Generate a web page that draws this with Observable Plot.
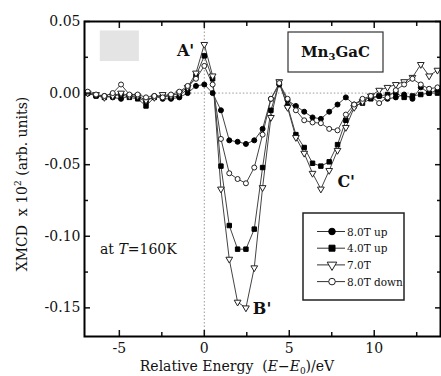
<!DOCTYPE html>
<html><head><meta charset="utf-8">
<script src="https://cdn.jsdelivr.net/npm/d3@7"></script>
<script src="https://cdn.jsdelivr.net/npm/@observablehq/plot@0.6"></script>
<style>body{margin:0;background:#fff} #chart{width:441px;height:376px}</style>
</head><body><div id="chart"></div>
<script>
// Relative energy (E - E0) in eV
const energy = [-6.86,-6.37,-5.88,-5.39,-4.9,-4.41,-3.92,-3.43,-2.94,-2.45,-1.96,-1.47,-0.98,-0.49,0,
  0.49,0.98,1.47,1.96,2.45,2.94,3.43,3.92,4.41,4.9,5.39,5.88,6.37,6.86,7.35,7.84,8.33,8.82,
  9.31,9.8,10.29,10.78,11.27,11.76,12.25,12.74,13.23,13.72];
// XMCD x 10^2 series
const up8 = [0,-0.002,-0.002,-0.003,-0.004,-0.002,-0.003,-0.006,-0.002,-0.004,-0.004,-0.003,0.000,0.005,0.006,
  0.000,-0.012,-0.033,-0.034,-0.0355,-0.033,-0.025,-0.004,0.006,-0.005,-0.009,-0.013,-0.017,-0.018,-0.013,-0.008,-0.003,-0.008,
  -0.005,-0.003,-0.002,-0.004,-0.003,-0.001,-0.004,0.004,0.000,0.002];
const up4 = [0,-0.002,-0.003,-0.002,-0.001,-0.003,-0.004,-0.009,-0.003,-0.002,-0.003,-0.002,0.003,0.012,0.026,
  0.010,-0.051,-0.0925,-0.109,-0.109,-0.095,-0.052,-0.012,0.007,-0.009,-0.029,-0.038,-0.049,-0.051,-0.048,-0.036,-0.019,-0.009,
  -0.007,-0.004,-0.002,-0.001,0.000,-0.003,-0.002,-0.001,0.000,0.000];
const t7 = [0,-0.001,-0.003,-0.002,0.000,-0.002,-0.002,-0.005,-0.003,-0.001,-0.002,0.000,0.004,0.014,0.034,
  0.012,-0.067,-0.116,-0.146,-0.150,-0.122,-0.066,-0.017,0.008,-0.010,-0.031,-0.042,-0.056,-0.067,-0.054,-0.040,-0.024,-0.010,
  -0.006,-0.002,0.002,0.004,0.006,0.008,0.011,0.020,0.012,0.016];
const down8 = [0.001,-0.001,-0.002,0.000,0.006,-0.001,-0.001,-0.003,-0.002,-0.003,-0.001,0.001,0.005,0.010,0.019,
  0.006,-0.032,-0.056,-0.060,-0.063,-0.052,-0.029,-0.004,0.007,-0.004,-0.012,-0.019,-0.0205,-0.021,-0.025,-0.026,-0.015,-0.008,
  -0.004,-0.002,-0.007,-0.003,0.002,0.006,0.010,0.006,0.003,0.004];
const seriesNames = ["8.0T up","4.0T up","7.0T","8.0T down"];
const seriesValues = [up8, up4, t7, down8];
const xMajor = [-5,0,5,10];
const xMinor = [-2.5,2.5,7.5,12.5];
const yMajor = [0.05,0,-0.05,-0.10,-0.15];
const yMinor = [0.025,-0.025,-0.075,-0.125];
const peakLabels = [{t:"A'", E:-1.1, v:0.0295},{t:"B'", E:3.4, v:-0.1505},{t:"C'", E:8.35, v:-0.062}];

const rows = [];
seriesNames.forEach((s,i)=>energy.forEach((e,j)=>rows.push({series:s, E:e, v:seriesValues[i][j]})));
const sel = s => rows.filter(d=>d.series===s);

const symbols = {
  "8.0T up": {symbol:"circle", fill:"black", stroke:"black", rotate:0},
  "4.0T up": {symbol:"square", fill:"black", stroke:"black", rotate:0},
  "7.0T": {symbol:"triangle", fill:"white", stroke:"#222", rotate:180},
  "8.0T down": {symbol:"circle", fill:"white", stroke:"#222", rotate:0}
};
const font = "'DejaVu Serif', 'Liberation Serif', serif";

const plot = Plot.plot({
  width: 441, height: 376,
  marginLeft: 84, marginTop: 21, marginRight: 1, marginBottom: 40,
  style: {fontFamily: font, fontSize: "14px", color: "#111", background: "white"},
  x: {domain: [-7.05, 13.9]},
  y: {domain: [-0.17, 0.05]},
  marks: [
    Plot.rect([{x1:-6.12, x2:-3.82, y1:0.022, y2:0.0434}], {x1:"x1", x2:"x2", y1:"y1", y2:"y2", fill:"#e4e4e4"}),
    Plot.ruleX([0], {stroke:"#9a9a9a", strokeDasharray:"1.5,2", strokeWidth:1}),
    Plot.ruleY([0], {x1:-1, x2:13.9, stroke:"#9a9a9a", strokeDasharray:"1.5,2", strokeWidth:1}),
    Plot.line(rows, {x:"E", y:"v", z:"series", stroke:"#444", strokeWidth:1}),
    ...seriesNames.map(s => Plot.dot(sel(s), {x:"E", y:"v", r:2.5, strokeWidth:1, ...symbols[s]})),
    Plot.text(peakLabels, {x:"E", y:"v", text:"t", fontSize:16, fontWeight:"bold", fill:"#111", fontFamily:font}),
    Plot.axisY(yMajor, {anchor:"left", tickSize:-6, tickPadding:10, strokeWidth:1.5, tickFormat:d=>d.toFixed(2), label:null, fontFamily:font}),
    Plot.axisY(yMinor, {anchor:"left", tickSize:-4, strokeWidth:1.5, tickFormat:()=>"", label:null}),
    Plot.axisY(yMajor, {anchor:"right", tickSize:-6, strokeWidth:1.5, tickFormat:()=>"", label:null}),
    Plot.axisY(yMinor, {anchor:"right", tickSize:-4, strokeWidth:1.5, tickFormat:()=>"", label:null}),
    Plot.axisX(xMajor, {anchor:"bottom", tickSize:-6, tickPadding:13, strokeWidth:1.5, tickFormat:d=>String(d), label:null, fontFamily:font}),
    Plot.axisX(xMinor, {anchor:"bottom", tickSize:-4, strokeWidth:1.5, tickFormat:()=>"", label:null}),
    Plot.axisX(xMajor, {anchor:"top", tickSize:-6, strokeWidth:1.5, tickFormat:()=>"", label:null}),
    Plot.axisX(xMinor, {anchor:"top", tickSize:-4, strokeWidth:1.5, tickFormat:()=>"", label:null}),
    Plot.frame({stroke:"black", strokeWidth:2})
  ]
});
document.getElementById("chart").appendChild(plot);

const svg = d3.select(plot);
function txt(sel){ return sel.style("font-family", font).attr("fill","#111"); }
// axis titles
const yl = txt(svg.append("text")).attr("transform","translate(27,184) rotate(-90)")
  .attr("text-anchor","middle").attr("font-size",14);
yl.append("tspan").text("XMCD  x 10");
yl.append("tspan").attr("font-size",9).attr("dy",-6).text("2");
yl.append("tspan").attr("dy",6).text(" (arb. units)");
const xl = txt(svg.append("text")).attr("x",237).attr("y",371).attr("text-anchor","middle").attr("font-size",14);
xl.append("tspan").text("Relative Energy  (");
xl.append("tspan").attr("font-style","italic").text("E");
xl.append("tspan").text("\u2212");
xl.append("tspan").attr("font-style","italic").text("E");
xl.append("tspan").attr("font-size",9).attr("dy",3).text("0");
xl.append("tspan").attr("dy",-3).text(")/eV");

// temperature note
const tn = txt(svg.append("text")).attr("x",100).attr("y",254).attr("text-anchor","start").attr("font-size",14);
tn.append("tspan").text("at ");
tn.append("tspan").attr("font-style","italic").text("T");
tn.append("tspan").text("=160K");

// compound box
const cb = svg.append("g").attr("transform","translate(288,32)");
cb.append("rect").attr("width",95).attr("height",40).attr("fill","white").attr("stroke","#333").attr("stroke-width",1.2);
const ct = txt(cb.append("text")).attr("x",47.5).attr("y",25).attr("text-anchor","middle")
  .attr("font-size",15).attr("font-weight","bold");
ct.append("tspan").text("Mn");
ct.append("tspan").attr("font-size",10).attr("dy",3).text("3");
ct.append("tspan").attr("dy",-3).text("GaC");

// legend
const lg = svg.append("g").attr("transform","translate(303,213)");
lg.append("rect").attr("width",101).attr("height",87).attr("fill","white").attr("stroke","#222").attr("stroke-width",1.5);
const sym = {circle:d3.symbolCircle, square:d3.symbolSquare, triangle:d3.symbolTriangle};
seriesNames.forEach((s,i)=>{
  const yy = 18.5 + i*16.7;
  const g = lg.append("g").attr("transform",`translate(0,${yy})`);
  g.append("line").attr("x1",14).attr("x2",42).attr("stroke","#333").attr("stroke-width",1);
  const m = symbols[s];
  g.append("path").attr("d", d3.symbol(sym[m.symbol], m.symbol==="square"?36:m.symbol==="triangle"?40:34)())
    .attr("transform",`translate(29,0) rotate(${m.rotate})`).attr("fill",m.fill).attr("stroke",m.stroke).attr("stroke-width",1);
  txt(g.append("text")).attr("x",44).attr("y",4).attr("text-anchor","start").attr("font-size",10.5).text(s);
});
</script>
</body></html>
